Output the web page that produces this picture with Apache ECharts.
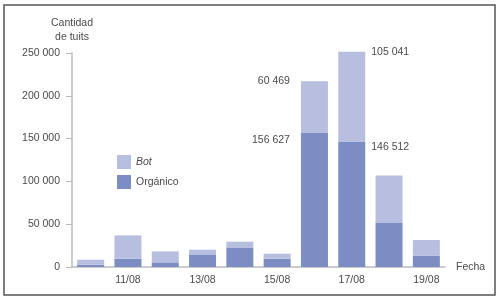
<!DOCTYPE html>
<html><head><meta charset="utf-8">
<script src="https://cdn.jsdelivr.net/npm/echarts@6/dist/echarts.min.js"></script>
<style>html,body{margin:0;padding:0;background:#fff}#c{width:502px;height:302px}</style>
</head><body><div id="c"></div>
<script>
const categories = ['10/08','11/08','12/08','13/08','14/08','15/08','16/08','17/08','18/08','19/08'];
const organico = [2700, 9700, 5400, 14700, 22200, 9700, 156627, 146512, 52100, 13200];
const bot = [5800, 27200, 12800, 5500, 7400, 5800, 60469, 105041, 54900, 18300];
const yTicks = [0, 50000, 100000, 150000, 200000, 250000];

const FONT = '"Liberation Sans Narrow","Liberation Sans",Arial,sans-serif';
const FS = 10.5;
const TXT = '#4a4a4a';
const fmt = v => String(v).replace(/\B(?=(\d{3})+(?!\d))/g, ' ');

const orgData = organico.map((v, i) => {
  const d = { value: v };
  if (i === 6) d.label = { show: true, position: [-11, 7], align: 'right', verticalAlign: 'middle', formatter: fmt(v) };
  if (i === 7) d.label = { show: true, position: [33, 6], align: 'left', verticalAlign: 'middle', formatter: fmt(v) };
  return d;
});
const botData = bot.map((v, i) => {
  const d = { value: v };
  if (i === 6) d.label = { show: true, position: [-11, 0], align: 'right', verticalAlign: 'middle', formatter: fmt(v) };
  if (i === 7) d.label = { show: true, position: [33, 0], align: 'left', verticalAlign: 'middle', formatter: fmt(v) };
  return d;
});

const chart = echarts.init(document.getElementById('c'), null, { renderer: 'canvas' });
chart.setOption({
  animation: false,
  textStyle: { fontFamily: FONT },
  graphic: [{ type: 'rect', shape: { x: 4, y: 5, width: 491, height: 290 }, style: { fill: 'none', stroke: '#555', lineWidth: 1.5 }, silent: true }],
  legend: {
    orient: 'vertical', left: 112, top: 150, itemWidth: 14, itemHeight: 14, itemGap: 6, icon: 'rect',
    textStyle: { color: TXT, fontSize: FS, fontFamily: FONT },
    data: [{ name: 'Bot', textStyle: { fontStyle: 'italic' } }, { name: 'Orgánico' }]
  },
  grid: { left: 72, right: 57, top: 53, bottom: 35, containLabel: false },
  xAxis: {
    type: 'category', data: categories, name: 'Fecha', nameGap: 11,
    nameTextStyle: { color: TXT, fontSize: FS, fontFamily: FONT },
    axisLine: { lineStyle: { color: '#bbb', width: 1.5 } },
    axisTick: { show: false },
    axisLabel: { color: TXT, fontSize: FS, margin: 8, interval: 0, formatter: (v, i) => (i % 2 === 1 ? v : '') }
  },
  yAxis: {
    type: 'value', min: 0, max: 250000, interval: 50000,
    name: 'Cantidad\nde tuits', nameLocation: 'end', nameGap: 9,
    nameTextStyle: { color: TXT, fontSize: FS, align: 'center', lineHeight: 14, fontFamily: FONT },
    axisLine: { show: true, lineStyle: { color: '#bbb', width: 1.5 } },
    axisTick: { show: true, length: 6, lineStyle: { color: '#bbb' } },
    splitLine: { show: false },
    axisLabel: { color: TXT, fontSize: FS, margin: 12, formatter: v => (yTicks.includes(v) ? fmt(v) : '') }
  },
  series: [
    { name: 'Orgánico', type: 'bar', stack: 't', data: orgData, barWidth: 27, clip: false,
      itemStyle: { color: '#7b8dc3' },
      label: { color: TXT, fontSize: FS, fontFamily: FONT } },
    { name: 'Bot', type: 'bar', stack: 't', data: botData, barWidth: 27, clip: false,
      itemStyle: { color: '#b8bedf' },
      label: { color: TXT, fontSize: FS, fontFamily: FONT } }
  ]
});
</script></body></html>
